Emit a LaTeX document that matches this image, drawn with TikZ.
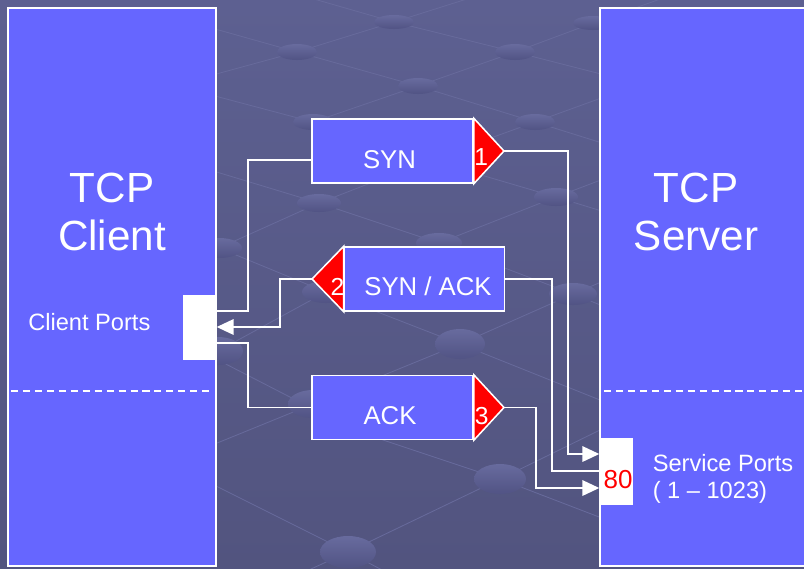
\documentclass[tikz,border=0pt]{standalone}
\usepackage{fontspec}
\setmainfont{Liberation Sans}
\usetikzlibrary{arrows.meta}
\definecolor{hostblue}{HTML}{6666FF}
\definecolor{flagred}{HTML}{FF0000}
\definecolor{bgtop}{HTML}{5D6091}
\definecolor{bgbot}{HTML}{52547F}
\definecolor{gridline}{HTML}{676A9B}
\definecolor{dotlight}{HTML}{686B9E}
\definecolor{dotdark}{HTML}{515384}
\newcommand\pxu{0.025cm}

\begin{document}
\begin{tikzpicture}[x=0.025cm,y=-0.025cm,
    host/.style={draw=white,line width=1pt,fill=hostblue,inner sep=0pt},
    msgbox/.style={draw=white,line width=1.1pt,fill=hostblue,inner sep=0pt,
        minimum width=161*\pxu,minimum height=64*\pxu},
    portbox/.style={fill=white,inner sep=0pt,minimum width=33*\pxu},
    flag/.style={fill=flagred,draw=white,line width=1.1pt},
    wire/.style={draw=white,line width=1.2pt},
    arr/.style={wire,-{Triangle[length=12pt,width=11pt]}},
    bigtxt/.style={text=white,font=\fontsize{30}{34.4}\selectfont,align=center,
        inner sep=0pt,anchor=north},
    msgtxt/.style={text=white,font=\fontsize{18.3}{22}\selectfont,inner sep=0pt,anchor=base},
    numtxt/.style={text=white,font=\fontsize{17.5}{20}\selectfont,inner sep=0pt},
    smalltxt/.style={text=white,font=\fontsize{16.8}{18.9}\selectfont,inner sep=0pt}]
    \useasboundingbox (0,0) rectangle (804,568);
    \shade[top color=bgtop,bottom color=bgbot] (0,0) rectangle (804,568);
    % lattice in the backdrop
    \draw[gridline,line width=0.6pt]
        (176,85) -- (297,52) -- (394,22) -- (470,-2)
        (313,122) -- (418,86) -- (515,52) -- (593,23) -- (680,-8)
        (219,248) -- (319,203) -- (430,160) -- (535,122) -- (640,84)
        (218,351) -- (326,292) -- (439,243) -- (556,197) -- (680,150)
        (200,450) -- (313,404) -- (460,344) -- (573,294) -- (700,240)
        (200,620) -- (348,552) -- (500,479) -- (600,430) -- (720,372)
        (176,18) -- (297,52) -- (418,86) -- (535,122) -- (650,158)
        (300,-5) -- (394,22) -- (515,52) -- (640,84)
        (200,92) -- (313,122) -- (430,160) -- (556,197) -- (680,235)
        (210,170) -- (319,203) -- (439,243) -- (573,294) -- (700,345)
        (219,248) -- (326,292) -- (460,344) -- (600,400)
        (216,359) -- (356,431) -- (500,479) -- (620,525)
        (200,478) -- (348,552) -- (420,590);
    \foreach \ex/\ey/\rx/\ry in {394/22/20/7, 593/23/20/7, 297/52/20/8, 515/52/20/8,
        418/86/20/8, 313/122/20/8, 535/122/20/8, 430/160/21/9, 319/203/22/9,
        556/197/22/9, 439/243/23/10, 219/248/23/10, 326/292/24/11, 573/294/24/11,
        460/344/25/15, 218/351/25/14, 313/404/25/14, 500/479/26/15, 348/552/28/16}
        \shade[top color=dotlight,bottom color=dotdark] (\ex,\ey) ellipse [x radius=\rx, y radius=\ry];

    \node[host,minimum width=208*\pxu,minimum height=558*\pxu] (client) at (112,287) {};
    \node[host,minimum width=210*\pxu,minimum height=558*\pxu] (server) at (705,287) {};
    \draw[white,line width=1pt,dash pattern=on 5pt off 3.5pt] (11,391) -- (213,391);
    \draw[white,line width=1pt,dash pattern=on 5pt off 3.5pt] (604,391) -- (804,391);
    \node[bigtxt] (clientname) at (112,172.7) {TCP\\Client};
    \node[bigtxt] (servername) at (696,172.7) {TCP\\Server};
    \node[smalltxt,anchor=base west] (cportname) at (28,330) {Client Ports};
    \node[smalltxt,anchor=north west,align=left] (sportname) at (652.5,454.5)
        {Service Ports\\( 1 – 1023)};

    \node[msgbox] (syn) at (392.5,151) {};
    \node[msgbox,minimum width=160*\pxu] (synack) at (424.5,279) {};
    \node[msgbox] (ack) at (392.5,407.5) {};
    \coordinate (syntip) at (504,151);
    \coordinate (synacktip) at (312,279);
    \coordinate (acktip) at (504,407.5);
    \filldraw[flag] (syn.north east) -- (syntip) -- (syn.south east) -- cycle;
    \filldraw[flag] (synack.north west) -- (synacktip) -- (synack.south west) -- cycle;
    \filldraw[flag] (ack.north east) -- (acktip) -- (ack.south east) -- cycle;
    \node[msgtxt] (syntxt) at (389.5,168.3) {SYN};
    \node[msgtxt] (synacktxt) at (428,295) {SYN / ACK};
    \node[msgtxt] (acktxt) at (390,424) {ACK};
    \node[numtxt,anchor=base west] (one) at (474,165.5) {1};
    \node[numtxt,anchor=base east] (two) at (344.5,295) {2};
    \node[numtxt,anchor=base west] (three) at (474.5,424) {3};

    \draw[wire] (client.east |- 0,311) -| (248,160) -- (syn.west |- 0,160);
    \draw[arr] (syntip) -| (568,454) -- (server.west |- 0,454);
    \draw[wire] (synack.east) -| (552,471) -- (server.west |- 0,471);
    \draw[arr] (synacktip) -| (280,327) -- (client.east |- 0,327);
    \draw[wire] (client.east |- 0,343) -| (248,407.5) -- (ack.west);
    \draw[arr] (acktip) -| (536,488) -- (server.west |- 0,488);

    \node[portbox,minimum height=65*\pxu,anchor=east] (cport) at (client.east |- 0,327.5) {};
    \node[portbox,minimum height=67*\pxu,anchor=west] (sport) at (server.west |- 0,471.5) {};
    \node[text=flagred,font=\fontsize{18.5}{22}\selectfont,inner sep=0pt,anchor=base]
        (eighty) at (618,488) {80};
\end{tikzpicture}
\end{document}
